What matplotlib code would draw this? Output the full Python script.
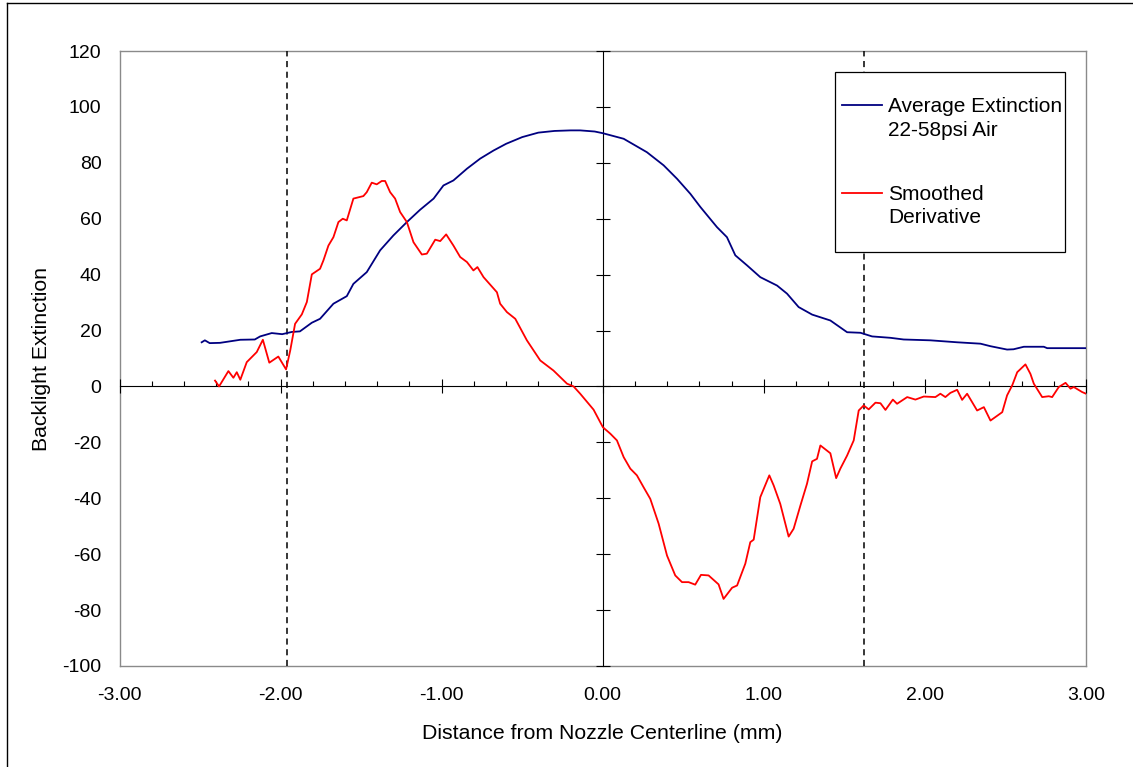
import numpy as np
import matplotlib
matplotlib.use("Agg")
import matplotlib.pyplot as plt
from matplotlib.lines import Line2D
from matplotlib.patches import Rectangle
from matplotlib.ticker import MultipleLocator, FormatStrFormatter
from matplotlib.legend_handler import HandlerLine2D

plt.rcParams['font.family'] = ['Liberation Sans', 'DejaVu Sans']
plt.rcParams['axes.unicode_minus'] = False

# ---------------- data ----------------
avg_x = [-2.49, -2.47, -2.44, -2.376, -2.25, -2.16, -2.127, -2.055, -1.99, -1.93,
         -1.88, -1.806, -1.755, -1.672, -1.589, -1.548, -1.465, -1.382, -1.30, -1.216,
         -1.134, -1.05, -0.989, -0.927, -0.843, -0.761, -0.678, -0.6, -0.5, -0.4,
         -0.3, -0.2, -0.14, -0.05, 0.0, 0.13, 0.274, 0.378, 0.461, 0.544,
         0.606, 0.709, 0.771, 0.823, 0.896, 0.978, 1.082, 1.144, 1.216, 1.30,
         1.413, 1.517, 1.60, 1.672, 1.786, 1.868, 2.034, 2.20, 2.345, 2.407,
         2.51, 2.55, 2.614, 2.738, 2.759, 3.0]
avg_y = [15.8, 16.5, 15.5, 15.6, 16.7, 16.8, 17.9, 19.1, 18.7, 19.5,
         19.7, 22.8, 24.2, 29.6, 32.3, 36.7, 40.9, 48.7, 54.0, 58.8,
         63.2, 67.2, 71.9, 73.7, 77.9, 81.5, 84.4, 86.8, 89.2, 90.8,
         91.4, 91.6, 91.6, 91.2, 90.6, 88.6, 83.8, 79.1, 74.3, 68.9,
         64.2, 57.0, 53.4, 46.9, 43.3, 39.1, 36.1, 33.2, 28.4, 25.7,
         23.6, 19.4, 19.2, 17.9, 17.4, 16.8, 16.5, 15.8, 15.3, 14.4,
         13.2, 13.3, 14.2, 14.2, 13.7, 13.7]

der_x = [-2.407, -2.382, -2.324, -2.293, -2.272, -2.25, -2.21, -2.148, -2.11, -2.07,
         -2.014, -1.966, -1.94, -1.91, -1.868, -1.837, -1.806, -1.755, -1.734, -1.703,
         -1.672, -1.641, -1.614, -1.589, -1.548, -1.486, -1.465, -1.434, -1.403, -1.372,
         -1.351, -1.32, -1.289, -1.258, -1.216, -1.175, -1.123, -1.092, -1.04, -1.009,
         -0.972, -0.927, -0.885, -0.843, -0.803, -0.778, -0.74, -0.657, -0.637, -0.595,
         -0.543, -0.471, -0.388, -0.306, -0.222, -0.181, -0.14, -0.057, 0.001, 0.047,
         0.088, 0.13, 0.171, 0.212, 0.253, 0.295, 0.347, 0.399, 0.45, 0.492,
         0.533, 0.574, 0.61, 0.657, 0.719, 0.75, 0.803, 0.834, 0.885, 0.916,
         0.937, 0.978, 1.034, 1.061, 1.102, 1.154, 1.185, 1.227, 1.268, 1.3,
         1.33, 1.351, 1.413, 1.449, 1.475, 1.517, 1.558, 1.589, 1.62, 1.651,
         1.693, 1.724, 1.755, 1.801, 1.827, 1.89, 1.941, 1.993, 2.065, 2.096,
         2.127, 2.158, 2.2, 2.231, 2.262, 2.324, 2.366, 2.407, 2.48, 2.51,
         2.542, 2.573, 2.624, 2.655, 2.676, 2.728, 2.769, 2.79, 2.831, 2.873,
         2.904, 2.924, 2.976, 3.0]
der_y = [2.1, 0.0, 5.5, 3.1, 5.1, 2.4, 8.7, 12.3, 16.7, 8.5,
         10.7, 6.1, 12.9, 22.4, 25.8, 30.2, 40.1, 42.1, 45.1, 50.4,
         53.4, 58.8, 60.0, 59.4, 67.2, 68.1, 69.5, 72.9, 72.3, 73.5,
         73.5, 69.5, 67.2, 62.4, 58.8, 51.6, 47.2, 47.5, 52.5, 52.0,
         54.4, 50.4, 46.3, 44.5, 41.5, 42.7, 39.1, 33.7, 29.6, 26.6,
         24.2, 16.5, 9.3, 5.7, 1.0, 0.0, -2.6, -8.3, -14.6, -16.9,
         -19.3, -25.3, -29.4, -31.8, -36.0, -40.2, -49.1, -60.5, -67.6, -70.0,
         -70.0, -70.9, -67.4, -67.6, -70.8, -76.0, -72.0, -71.2, -63.4, -55.7,
         -54.8, -39.6, -31.8, -35.4, -42.0, -53.7, -50.9, -42.6, -34.8, -26.8,
         -25.9, -21.1, -23.9, -32.8, -29.4, -24.7, -19.3, -8.6, -6.8, -8.2,
         -5.8, -6.0, -8.4, -4.7, -6.2, -3.8, -4.7, -3.6, -3.8, -2.6,
         -3.8, -2.3, -1.2, -4.8, -2.6, -8.6, -7.4, -12.2, -9.2, -3.2,
         0.4, 5.1, 7.9, 4.5, 1.0, -3.8, -3.5, -3.8, -0.2, 1.3,
         -0.8, -0.2, -2.0, -2.6]

boundary_x = [-1.96, 1.62]
series_labels = ["Average Extinction\n22-58psi Air", "Smoothed\nDerivative"]
x_label = "Distance from Nozzle Centerline (mm)"
y_label = "Backlight Extinction"

# ---------------- figure ----------------
W, H = 1133, 767
fig = plt.figure(figsize=(W / 100, H / 100), dpi=100)
fig.patch.set_facecolor('white')

L, R, T, B = 119.5, 1086, 51, 666
pos = [L / W, 1 - B / H, (R - L) / W, (B - T) / H]

# base axes: gray frame + tick labels
ax = fig.add_axes(pos)
ax.set_xlim(-3, 3)
ax.set_ylim(-100, 120)
for s in ax.spines.values():
    s.set_color('#8a8a8a')
    s.set_linewidth(1.0)
ax.xaxis.set_major_locator(MultipleLocator(1))
ax.xaxis.set_major_formatter(FormatStrFormatter('%.2f'))
ax.yaxis.set_major_locator(MultipleLocator(20))
ax.tick_params(axis='both', length=0, labelsize=14)
ax.tick_params(axis='x', pad=15)
ax.tick_params(axis='y', pad=13)
ax.set_xlabel(x_label, fontsize=15.3)
ax.set_ylabel(y_label, fontsize=15.3)
ax.xaxis.set_label_coords(0.5, -0.094)
ax.yaxis.set_label_coords(-0.071, 0.5)

# crossing axes through zero
axc = fig.add_axes(pos, facecolor='none')
axc.set_xlim(-3, 3)
axc.set_ylim(-100, 120)
for k in ('top', 'right'):
    axc.spines[k].set_visible(False)
axc.spines['left'].set_position(('data', 0))
axc.spines['bottom'].set_position(('data', 0))
for k in ('left', 'bottom'):
    axc.spines[k].set_color('black')
    axc.spines[k].set_linewidth(0.8)
axc.xaxis.set_major_locator(MultipleLocator(1))
axc.xaxis.set_minor_locator(MultipleLocator(0.2))
axc.yaxis.set_major_locator(MultipleLocator(20))
axc.tick_params(axis='x', which='major', direction='inout', length=9.5, width=0.8,
                labelbottom=False)
axc.tick_params(axis='x', which='minor', direction='in', length=3.6, width=0.8)
axc.tick_params(axis='y', which='major', direction='inout', length=10, width=0.8,
                labelleft=False)

# dashed boundaries
for bx in boundary_x:
    axc.axvline(bx, color='black', lw=1.1, ls=(0, (4, 3)), zorder=2.6)

ln1, = axc.plot(avg_x, avg_y, color='#000080', lw=1.3, zorder=3, label=series_labels[0])
ln2, = axc.plot(der_x, der_y, color='#ff0000', lw=1.3, zorder=3, label=series_labels[1])

# legend box
x0 = (835 - L) / (R - L)
x1 = (1065 - L) / (R - L)
y1 = (B - 72) / (B - T)
y0 = (B - 252) / (B - T)
axc.add_patch(Rectangle((x0, y0), x1 - x0, y1 - y0, transform=axc.transAxes,
                        facecolor='white', edgecolor='black', lw=0.9, zorder=4))


class FirstLineHandler(HandlerLine2D):
    def create_artists(self, legend, orig_handle, xdescent, ydescent, width,
                       height, fontsize, trans):
        arts = super().create_artists(legend, orig_handle, xdescent, ydescent,
                                      width, height, fontsize, trans)
        for a in arts:
            a.set_ydata(np.asarray(a.get_ydata(), dtype=float) + 0.64 * fontsize)
        return arts


leg = axc.legend(handles=[ln1, ln2], loc='upper left',
                 bbox_to_anchor=((842 - L) / (R - L), (B - 97) / (B - T)),
                 frameon=False, borderpad=0, borderaxespad=0, fontsize=15,
                 handlelength=1.9, handletextpad=0.3, labelspacing=2.16,
                 handler_map={Line2D: FirstLineHandler()})
leg.set_zorder(5)
for t in leg.get_texts():
    t.set_linespacing(1.3)

# outer border (left and top)
fig.add_artist(Line2D([7 / W, 7 / W], [0, 1 - 2.5 / H], transform=fig.transFigure,
                      color='black', lw=1.0))
fig.add_artist(Line2D([7 / W, 1], [1 - 2.5 / H, 1 - 2.5 / H], transform=fig.transFigure,
                      color='black', lw=1.0))

fig.savefig('out.png', dpi=100)
